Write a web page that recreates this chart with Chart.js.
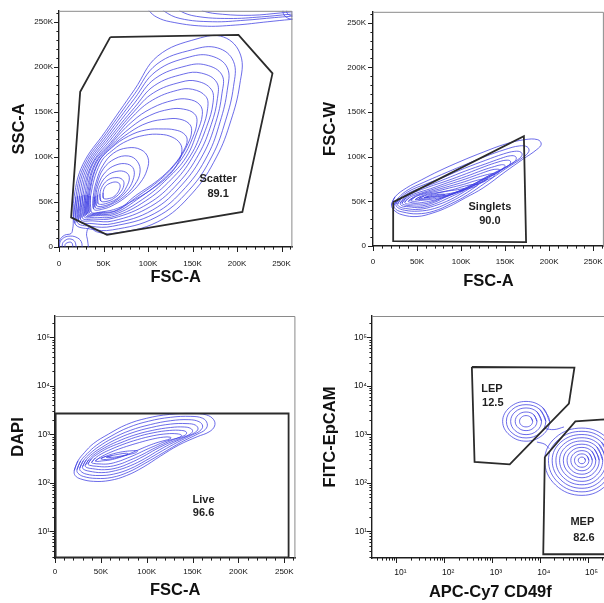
<!DOCTYPE html>
<html>
<head>
<meta charset="utf-8">
<script src="https://cdn.jsdelivr.net/npm/chart.js@4.4.1/dist/chart.umd.min.js"></script>
<style>
  html, body { margin: 0; padding: 0; background: #fff; overflow: hidden; }
  #wrap { position: relative; width: 604px; height: 603px; overflow: hidden; }
  canvas { position: absolute; }
</style>
</head>
<body>
<div id="wrap">
  <canvas id="p1" width="302" height="300" style="left:0;top:0"></canvas>
  <canvas id="p2" width="311" height="300" style="left:302px;top:0"></canvas>
  <canvas id="p3" width="302" height="303" style="left:0;top:300px"></canvas>
  <canvas id="p4" width="310" height="303" style="left:302px;top:300px"></canvas>
</div>
<script>
// ---- tick labels ----
const linearMajorTicks = [0, 50, 100, 150, 200, 250];
const linearTickLabels = ['0', '50K', '100K', '150K', '200K', '250K'];
const logMajorTicks = [10, 100, 1000, 10000, 100000];
const logTickLabels = ['10¹', '10²', '10³', '10⁴', '10⁵'];

// ---- panel 1: FSC-A / SSC-A (thousands) ----
const scatterGate = [[57.6,232.9],[201.6,235.4],[239.8,192.7],[206,39],[53.9,13.5],[13.6,32.9],[23.8,172.3]];
const scatterText = [['Scatter',178.7,75.1],['89.1',178.7,59.3]];
// outermost level, joins the debris blob at the origin (open, runs below 0)
const scatterOuter = [[-2,-6],[-1.1,0.3],[0.8,7.7],[6.3,13.1],[13.6,15],[15.4,20.4],[16,26],[17,56],[27,92],[52,128],[85,175],[111,212],[155,231],[185,233],[204,213],[203,180],[193,140],[177,100],[150,60],[111,28],[60,15],[42,17],[34,22],[31,15],[32,8],[33,0],[33,-6]];
const scatterRings = [
  [[18,26],[19,56],[29,92],[53,126],[85,170],[110,203],[150,219],[178,221],[196,206],[196,178],[187,140],[172,101],[146,63],[109,33],[60,19],[35,20]],
  [[20,28],[21,57],[31,92],[54,124],[85,165],[109,195],[147,211],[171,212],[189,199],[189,174],[181,139],[167,102],[142,66],[107,37],[60,23],[36,23]],
  [[22,29.5],[23,57],[33,92],[55,122],[85,160],[108,187],[143,201],[165,202],[183,191],[183,170],[176,138],[162,103],[138,69],[105,41],[61,26],[37,26]],
  [[24,31],[25,57],[35,92],[56,120],[85,155],[107,179],[140,192],[160,193],[177,183],[178,165],[171,136],[157,103],[134,71],[103,45],[61,29],[38,29]],
  [[26,32.5],[27,58],[37,92],[57,118],[84,150],[106,171],[137,183],[155,184],[171,175],[173,160],[166,134],[152,103],[130,73],[100,48],[61,32],[39,31]],
  [[28,34],[29,58],[38,92],[58,116],[83,145],[105,163],[133,174],[150,175],[165,167],[167,154],[161,131],[148,102],[126,75],[97,51],[62,34],[40,33]],
  [[29.5,35],[30.5,58],[40,92],[58,114],[82,139],[104,154],[129,163],[145,164],[158,158],[161,147],[155,127],[143,100],[122,76],[94,53],[62,36],[41,35]],
  [[31,36],[32,58],[41,92],[58,112],[81,133],[102,146],[125,153],[140,153],[152,148],[155,139],[150,121],[138,98],[118,76],[91,55],[63,38],[42,36]],
  [[32.5,37],[33,57],[43,92],[59,111],[79,127],[100,138],[121,142],[135,142],[146,137],[149,129],[145,115],[133,95],[114,75],[88,56],[64,40],[43,37]],
  [[34,38],[34,57],[44,93],[59,110],[78,123],[98,130],[117,131],[130,130],[140,126],[144,119],[140,107],[129,91],[111,74],[86,57],[65,41],[44,38]],
  [[36,39],[35.5,57],[46.5,93],[61,108],[77,118],[96,124],[114,125],[127,122],[136,115],[138,106],[134,94],[124,80],[107,66],[86,53],[66,43],[48,39]],
  [[39,42],[38.5,56],[42,73],[49,90],[61,104],[77,110],[92,108],[100,99],[99,86],[91,71],[77,57],[62,47],[49,42]],
  [[40.5,44],[40,56],[43,71],[50,87],[63,98],[78,101],[88,95],[91,83],[85,69],[73,56],[58,47],[48,43.5]],
  [[42,46],[41.5,57],[44.5,70],[52,83],[64,91],[77,92],[84,86],[83,74],[76,62],[63,51],[52,46]],
  [[44,48],[43.5,58],[46.5,69],[54,79],[65,84],[75,83],[79,77],[76,67],[69,57],[58,50]],
  [[47,51],[46,59],[49,68],[56,75],[65,77],[71,75],[73,70],[70,62],[63,55],[55,51]],
  [[50,54],[49.5,60],[52,67],[58,71],[65,72],[68.5,69],[67.5,63],[63,57],[57,54]]
];
// debris at the origin and saturated events along the top edge (open, clipped)
const scatterEdges = [
  [[1,-3],[1,5],[5,10],[11,12],[19,11],[25,6],[26,-3]],
  [[4,-3],[4,4],[8,8],[12,9],[17,7],[19,2],[19,-3]],
  [[7,-2],[7,3],[10,5],[14,5],[15.5,1],[15,-2]],
  [[100,266],[101.3,262],[110,255],[125,250],[161.6,245.2],[198,246.3],[234.6,250],[260,252.5],[270,253]],
  [[117,266],[117.7,262],[136,253.6],[172.6,250],[209,251.7],[242,254.6],[260,256],[270,256.5]],
  [[135,266],[136,262],[154.3,256],[190.8,253.6],[227.4,255.4],[260,258.3],[270,258.5]],
  [[160,266],[161.6,262],[183.6,258.3],[216.4,257.2],[249.3,259.8],[260,260.8],[270,261]],
  [[252,266],[252,259],[257,254],[263,253],[270,253]],
  [[256,266],[256,260],[260,257],[270,256]]
];

// ---- panel 2: FSC-A / FSC-W (thousands) ----
const singletsGate = [[22.9,49.1],[171.3,122.8],[173.8,4.4],[23.6,5.5]];
const singletsText = [['Singlets',132.7,43.6],['90.0',132.7,28.3]];
const singletsRings = [
  [[21,46],[25,55],[38,65],[55,74],[75,84],[100,95],[125,105],[150,114],[172,119],[187,119],[191,114],[186,108],[170,97],[150,83],[125,65],[105,54],[86,44],[68,37],[50,33],[33,35],[24,40]],
  [[24,46],[29,54],[40,63],[57,71],[78,80],[102,90],[127,100],[150,108],[166,112],[175,111],[177,106],[170,99],[150,86],[128,71],[107,57],[88,47],[69,39],[50,36],[34,38],[26,41]],
  [[26,47],[31,54],[42,62],[59,69],[80,77],[104,87],[128,96],[148,103],[161,106],[168,105],[169,101],[162,95],[146,85],[126,73],[107,60],[89,50],[70,42],[51,39],[36,40],[28,43]],
  [[28,47],[33,54],[44,61],[61,67],[82,75],[105,84],[128,92],[145,98],[156,101],[162,100],[162,96],[155,91],[140,82],[122,72],[104,61],[88,52],[70,45],[52,41],[37,42],[30,44]],
  [[31,48],[36,54],[47,60],[63,66],[84,73],[106,81],[127,89],[142,94],[151,96],[156,95],[155,91],[148,87],[134,80],[117,70],[101,61],[86,54],[70,47],[54,43],[40,44],[33,45]],
  [[33,48],[38,54],[49,59],[65,64],[85,71],[106,78],[125,85],[138,89],[146,91],[150,90],[148,87],[141,83],[128,77],[112,68],[97,61],[83,55],[70,49],[56,45],[43,45],[36,46]],
  [[36,49],[41,54],[51,58],[67,63],[86,69],[105,75],[122,81],[134,85],[141,86],[144,85],[142,82],[135,79],[122,73],[107,66],[94,60],[81,55],[69,50],[57,47],[46,47],[39,47]],
  [[40,50],[45,54],[54,58],[69,62],[87,67],[104,72],[119,77],[130,80],[136,81],[138,80],[136,77],[129,74],[117,69],[103,63],[91,58],[79,54],[68,51],[58,49],[48,48],[42,49]],
  [[43,51],[48,55],[57,58],[71,61],[87,65],[103,69],[116,73],[125,75],[129,75],[128,73],[121,70],[110,66],[98,61],[86,57],[75,54],[64,52],[54,51],[47,50]],
  [[48,52],[53,55],[62,58],[75,60],[90,63],[104,67],[114,69],[119,69],[117,67],[108,64],[96,61],[84,57],[73,55],[63,53],[55,52],[50,52]],
  [[52,53],[58,56],[68,58],[82,61],[96,63],[104,64],[103,62],[94,60],[82,58],[70,56],[60,54],[54,53]],
  [[58,54],[64,56],[72,57.5],[80,58],[82,57],[76,56],[67,55],[60,54]]
];

// ---- panel 3: FSC-A (thousands) / DAPI ----
const liveGate = [[0.7,2.9],[0.7,2680],[254.7,2680],[254.7,2.9]];
const liveText = [['Live',162,45],['96.6',162,23.8]];
const liveRings = [
  [[21,178],[25,282],[32,417],[42,646],[58,1000],[78,1585],[100,2140],[125,2570],[150,2690],[165,2510],[173,2000],[174,1480],[168,1120],[155,890],[135,600],[115,355],[96,209],[78,141],[60,112],[42,107],[28,120],[22,141]],
  [[24,186],[28,282],[35,398],[45,589],[60,891],[80,1380],[102,1860],[126,2240],[148,2340],[161,2140],[166,1660],[164,1260],[155,1000],[138,692],[118,417],[98,251],[80,166],[62,129],[45,123],[31,135],[25,158]],
  [[27,200],[31,288],[38,398],[48,562],[62,813],[82,1200],[104,1585],[126,1905],[146,2000],[157,1820],[161,1480],[158,1175],[149,955],[134,692],[117,457],[99,288],[82,195],[64,151],[48,141],[34,151],[28,174]],
  [[30,214],[34,295],[41,398],[51,537],[65,759],[84,1072],[105,1380],[126,1622],[144,1660],[153,1549],[156,1288],[152,1072],[143,891],[129,676],[114,479],[98,316],[82,224],[66,178],[51,162],[37,174],[31,191]],
  [[33,229],[37,302],[44,398],[54,525],[68,708],[86,955],[106,1200],[126,1380],[141,1413],[148,1318],[150,1148],[146,977],[137,832],[124,661],[110,490],[96,347],[82,257],[68,204],[54,186],[41,195],[34,209]],
  [[36,245],[40,316],[47,398],[57,513],[71,661],[88,871],[107,1072],[125,1200],[138,1200],[143,1122],[143,1000],[138,891],[129,776],[118,631],[106,490],[94,372],[82,295],[70,240],[57,214],[45,219],[38,229]],
  [[40,263],[44,324],[51,398],[61,490],[74,617],[90,776],[107,933],[122,1023],[133,1023],[138,955],[136,871],[129,794],[120,708],[110,589],[99,479],[89,389],[79,324],[69,275],[58,245],[48,245],[42,251]],
  [[44,282],[49,331],[56,389],[66,468],[78,562],[92,676],[106,794],[118,871],[126,871],[126,813],[119,741],[110,661],[100,562],[90,468],[80,389],[70,331],[60,295],[51,282],[46,275]],
  [[50,316],[56,355],[64,398],[74,437],[84,457],[90,457],[88,417],[80,380],[70,339],[60,309],[53,302]],
  [[56,339],[62,363],[70,389],[78,407],[80,389],[74,363],[65,339],[58,331]]
];

// ---- panel 4: APC-Cy7 CD49f / FITC-EpCAM ----
const lepGate = [[379,24400],[53000,23700],[40600,4300],[2350,240],[432,269]];
const mepGate = [[12740,340],[55460,1853],[188000,2010],[300000,2050],[300000,3.36],[11800,3.36]];
const lepText = [['LEP',1000,8750],['12.5',1040,4510]];
const mepText = [['MEP',77500,15.6],['82.6',84000,7.4]];
const lepRings = [
  [[7080,1850],[6460,2240],[5160,2430],[4130,2240],[3770,1850],[4130,1530],[5160,1420],[6460,1530]],
  [[8710,1850],[7460,2540],[5160,2880],[3570,2540],[3060,1850],[3570,1355],[5160,1190],[7460,1355]],
  [[10860,1850],[8730,2900],[5160,3490],[3055,2900],[2455,1850],[3055,1186],[5160,984],[8730,1186]],
  [[13340,1850],[10090,3240],[5160,4080],[2640,3240],[2000,1850],[2640,1060],[5160,841],[10090,1060]],
  [[15960,1850],[11460,3560],[5160,4760],[2330,3560],[1670,1850],[2330,966],[5160,721],[11460,966]]
];
const lepMepNeck = [
  [[12740,1312],[19900,1250],[32000,1416]],
  [[8710,693],[12740,622],[15700,507]]
];
const mepRings = [
  [[89950,291],[85700,324],[76200,339],[67140,324],[63680,291],[67140,259],[76200,247],[85700,259]],
  [[106200,291],[96400,361],[76200,394],[59160,361],[53210,291],[59160,230],[76200,209],[96400,230]],
  [[125300,291],[108400,402],[76200,460],[52120,402],[44570,291],[52120,205],[76200,177],[108400,205]],
  [[148300,291],[121900,449],[76200,537],[45810,449],[37150,291],[45810,182],[76200,150],[121900,182]],
  [[175000,291],[137100,500],[76200,625],[40360,500],[31050,291],[40360,162],[76200,127],[137100,162]],
  [[206500,291],[154200,557],[76200,728],[35560,557],[25940,291],[35560,144],[76200,107],[154200,144]],
  [[243800,291],[173400,619],[76200,849],[31330,619],[21730,291],[31330,128],[76200,91],[173400,128]],
  [[287700,291],[195000,690],[76200,989],[27610,690],[18160,291],[27610,114],[76200,77],[195000,114]],
  [[339600,291],[219300,769],[76200,1151],[24320,769],[15170,291],[24320,101],[76200,65],[219300,101]],
  [[401800,291],[246600,857],[76200,1343],[21380,857],[12650,291],[21380,90],[76200,55],[246600,90]]
];

// ---- drawing ----
Chart.defaults.font.family = '"Liberation Sans", Arial, sans-serif';
const CONTOUR = 'rgba(62,62,226,0.85)';

const openLine = pts => ({ data: pts, showLine: true, borderColor: CONTOUR, borderWidth: 0.9, pointRadius: 0, tension: 0.4, fill: false });
const ringLine = pts => openLine([...pts, pts[0], pts[1]]);
const gateLine = pts => ({ data: [...pts, pts[0]], showLine: true, borderColor: '#2b2b2b', borderWidth: 1.8, pointRadius: 0, tension: 0, fill: false });

function linTicks() {
  const t = [];
  for (let v = 0; v <= 260; v += 10) t.push({ value: v, major: v % 50 === 0 });
  return t;
}
function logTicks(min, max) {
  const t = [];
  for (let e = 0; e <= 5; e++) {
    for (let m = 1; m <= 9; m++) {
      const v = m * Math.pow(10, e);
      if (v >= min && v <= max) t.push({ value: v, major: m === 1 });
    }
  }
  return t;
}

function axis(isX, type, min, max, title, size, tickPad, titlePad) {
  const log = type === 'logarithmic';
  return {
    type, min, max,
    afterBuildTicks: s => { s.ticks = log ? logTicks(min, max) : linTicks(); },
    afterFit: s => { if (isX) s.height = size; else s.width = size; },
    grid: { display: false, drawTicks: false },
    border: { color: '#1e1e1e', width: 1.4 },
    ticks: {
      autoSkip: false, maxRotation: 0, minRotation: 0, includeBounds: false,
      padding: tickPad, color: '#111', font: { size: log ? 8.5 : 8 },
      labelOffset: (log && isX) ? 4 : 0,
      callback: v => {
        const i = (log ? logMajorTicks : linearMajorTicks).indexOf(v);
        return i < 0 ? '' : (log ? logTickLabels[i] : linearTickLabels[i]);
      }
    },
    title: {
      display: true, text: title, color: '#111',
      font: { size: 16.5, weight: 'bold' },
      padding: isX ? { top: 0, bottom: titlePad } : { top: titlePad, bottom: 0 }
    }
  };
}

// frame, FlowJo style major/minor tick marks, gate names
const flowAxes = {
  id: 'flowAxes',
  afterDraw(chart, args, opts) {
    const { ctx, chartArea: a } = chart;
    ctx.save();
    ctx.lineWidth = 1;
    ctx.strokeStyle = '#8a8a8a';
    ctx.beginPath();
    ctx.moveTo(a.left, a.top + 0.5);
    ctx.lineTo(a.right - 0.5, a.top + 0.5);
    ctx.lineTo(a.right - 0.5, a.bottom);
    ctx.stroke();
    ctx.strokeStyle = '#1e1e1e';
    for (const s of [chart.scales.x, chart.scales.y]) {
      for (const t of s.ticks) {
        const p = Math.round(s.getPixelForValue(t.value)) + 0.5;
        const len = t.major ? 5 : 2.6;
        ctx.beginPath();
        if (s.axis === 'x') { ctx.moveTo(p, a.bottom); ctx.lineTo(p, a.bottom + len); }
        else { ctx.moveTo(a.left, p); ctx.lineTo(a.left - len, p); }
        ctx.stroke();
      }
    }
    ctx.fillStyle = '#1f1f1f';
    ctx.font = 'bold 11px "Liberation Sans", Arial, sans-serif';
    ctx.textAlign = 'center';
    ctx.textBaseline = 'middle';
    for (const [text, x, y] of (opts.labels || [])) {
      ctx.fillText(text, chart.scales.x.getPixelForValue(x), chart.scales.y.getPixelForValue(y));
    }
    ctx.restore();
  }
};

function panel(id, p) {
  return new Chart(document.getElementById(id), {
    type: 'scatter',
    data: { datasets: p.datasets },
    options: {
      responsive: false, animation: false, events: [], devicePixelRatio: 1,
      layout: { padding: p.pad },
      elements: { line: { capBezierPoints: false } },
      plugins: { legend: { display: false }, tooltip: { enabled: false }, flowAxes: { labels: p.labels } },
      scales: { x: p.x, y: p.y }
    },
    plugins: [flowAxes]
  });
}

const LOG_MIN = Math.pow(10, 0.449), LOG_MAX = Math.pow(10, 5.439);

panel('p1', {
  pad: { left: 0, top: 7, right: 4, bottom: 0 },
  x: axis(true, 'linear', 0, 262.144, 'FSC-A', 53, 11.5, 12.3),
  y: axis(false, 'linear', 0, 262.144, 'SSC-A', 59, 6, 10),
  labels: scatterText,
  datasets: [gateLine(scatterGate), openLine(scatterOuter), ...scatterRings.map(ringLine), ...scatterEdges.map(openLine)]
});

panel('p2', {
  pad: { left: 0, top: 7, right: 0, bottom: 0 },
  x: axis(true, 'linear', 0, 262.144, 'FSC-A', 54, 11, 9.1),
  y: axis(false, 'linear', 0, 262.144, 'FSC-W', 71, 7, 18.4),
  labels: singletsText,
  datasets: [gateLine(singletsGate), ...singletsRings.map(ringLine)]
});

panel('p3', {
  pad: { left: 0, top: 16, right: 6, bottom: 0 },
  x: axis(true, 'linear', 0, 262.144, 'FSC-A', 45, 8.5, 3.1),
  y: axis(false, 'logarithmic', LOG_MIN, LOG_MAX, 'DAPI', 55, 5, 8.1),
  labels: liveText,
  datasets: [gateLine(liveGate), ...liveRings.map(ringLine)]
});

panel('p4', {
  pad: { left: 0, top: 16, right: 0, bottom: 0 },
  x: axis(true, 'logarithmic', Math.pow(10, 0.49), Math.pow(10, 5.44), 'APC-Cy7 CD49f', 45, 10, 0.6),
  y: axis(false, 'logarithmic', LOG_MIN, LOG_MAX, 'FITC-EpCAM', 70, 5, 18.1),
  labels: [...lepText, ...mepText],
  datasets: [gateLine(lepGate), gateLine(mepGate), ...lepRings.map(ringLine), ...lepMepNeck.map(openLine), ...mepRings.map(ringLine)]
});
</script>
</body>
</html>
